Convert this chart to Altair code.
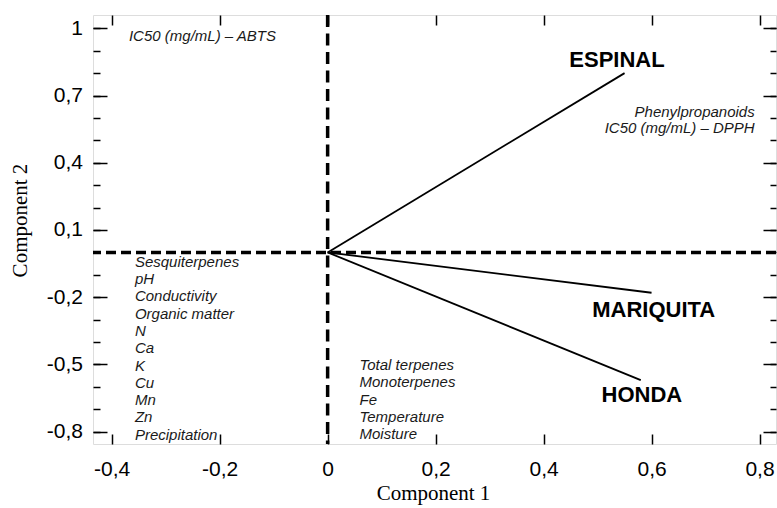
import altair as alt
import pandas as pd

# ---- data ----
sites = ["ESPINAL", "MARIQUITA", "HONDA"]
comp1 = [0.55, 0.60, 0.58]
comp2 = [0.80, -0.18, -0.57]
label_x = [0.536, 0.604, 0.582]
label_y = [0.829, -0.287, -0.669]

x_ticks = [-0.4, -0.2, 0, 0.2, 0.4, 0.6, 0.8]
y_ticks = [-0.8, -0.5, -0.2, 0.1, 0.4, 0.7, 1.0]
y_minor = [-0.8, -0.7, -0.6, -0.5, -0.4, -0.3, -0.2, -0.1, 0.0,
           0.1, 0.2, 0.3, 0.4, 0.5, 0.6, 0.7, 0.8, 0.9, 1.0]

nw_lines = ["IC50 (mg/mL) – ABTS"]
ne_lines = ["Phenylpropanoids", "IC50 (mg/mL) – DPPH"]
sw_lines = ["Sesquiterpenes", "pH", "Conductivity", "Organic matter", "N", "Ca",
            "K", "Cu", "Mn", "Zn", "Precipitation"]
se_lines = ["Total terpenes", "Monoterpenes", "Fe", "Temperature", "Moisture"]

left_blocks = [nw_lines, sw_lines, se_lines]
left_block_x = [-0.368, -0.357, 0.059]
left_block_y = [0.945, -0.064, -0.525]
right_blocks = [ne_lines]
right_block_x = [0.791]
right_block_y = [0.606]

X_DOM = [-0.4346, 0.8305]
Y_DOM = [-0.855, 1.0594]

# ---- tables ----
vec = pd.DataFrame({"site": sites, "x0": [0.0] * 3, "y0": [0.0] * 3,
                    "c1": comp1, "c2": comp2, "lx": label_x, "ly": label_y})
zero = pd.DataFrame({"z": [0.0]})
lt = pd.DataFrame({"t": ["\n".join(b) for b in left_blocks], "x": left_block_x, "y": left_block_y})
rt = pd.DataFrame({"t": ["\n".join(b) for b in right_blocks], "x": right_block_x, "y": right_block_y})

xs = alt.Scale(domain=X_DOM, nice=False, zero=False)
ys = alt.Scale(domain=Y_DOM, nice=False, zero=False)

lab_expr = "replace(replace(format(datum.value, '.1~f'), '.', ','), '\u2212', '-')"
common = dict(domain=False, grid=False, tickColor="black", tickWidth=1.5)

x_main = alt.Axis(orient="bottom", values=x_ticks, offset=-10, tickSize=10,
                  labelExpr=lab_expr, labelFont="Liberation Sans", labelFontSize=21,
                  labelColor="black", labelPadding=14, labelFlush=False, labelOverlap=False,
                  title="Component 1", titleFont="Liberation Serif", titleFontSize=21,
                  titleFontWeight="normal", titleColor="black", titleX=340, titleY=65,
                  titleBaseline="alphabetic", titleAlign="center", **common)
y_main = alt.Axis(orient="left", values=y_ticks, offset=-14, tickSize=14,
                  labelExpr=lab_expr, labelFont="Liberation Sans", labelFontSize=21,
                  labelColor="black", labelPadding=10.5, labelFlush=False, labelOverlap=False,
                  title="Component 2", titleFont="Liberation Serif", titleFontSize=21,
                  titleFontWeight="normal", titleColor="black", titleX=-87, titleY=205,
                  titleAngle=270, titleBaseline="middle", titleAlign="center", **common)
x_top = alt.Axis(orient="top", values=x_ticks, offset=-10, tickSize=10, labels=False, title=None, **common)
y_right = alt.Axis(orient="right", values=y_ticks, offset=-13, tickSize=13, labels=False, title=None, **common)
y_left_minor = alt.Axis(orient="left", values=y_minor, offset=-7, tickSize=7, labels=False, title=None, **common)
y_right_minor = alt.Axis(orient="right", values=y_minor, offset=-6, tickSize=6, labels=False, title=None, **common)

vectors = alt.Chart(vec).mark_rule(color="black", strokeWidth=1.8).encode(
    x=alt.X("x0:Q", scale=xs, axis=x_main),
    y=alt.Y("y0:Q", scale=ys, axis=y_main),
    x2="c1:Q", y2="c2:Q",
)
ax2 = alt.Chart(vec).mark_point(opacity=0).encode(
    x=alt.X("c1:Q", scale=xs, axis=x_top),
    y=alt.Y("c2:Q", scale=ys, axis=y_right),
)
ax3 = alt.Chart(vec).mark_point(opacity=0).encode(
    x=alt.X("c1:Q", scale=xs, axis=None),
    y=alt.Y("c2:Q", scale=ys, axis=y_left_minor),
)
ax4 = alt.Chart(vec).mark_point(opacity=0).encode(
    x=alt.X("c1:Q", scale=xs, axis=None),
    y=alt.Y("c2:Q", scale=ys, axis=y_right_minor),
)
hline = alt.Chart(zero).mark_rule(color="black", strokeWidth=3.5, strokeDash=[10, 5]).encode(
    y=alt.Y("z:Q", scale=ys, axis=None))
vline = alt.Chart(zero).mark_rule(color="black", strokeWidth=3.5, strokeDash=[12, 6.5]).encode(
    x=alt.X("z:Q", scale=xs, axis=None))
names = alt.Chart(vec).mark_text(align="center", baseline="alphabetic", font="Liberation Sans",
                                 fontWeight="bold", fontSize=22, color="black").encode(
    x=alt.X("lx:Q", scale=xs, axis=None), y=alt.Y("ly:Q", scale=ys, axis=None), text="site:N")
ltext = alt.Chart(lt).mark_text(align="left", baseline="alphabetic", font="Liberation Sans",
                                fontStyle="italic", fontSize=15, lineBreak="\n", lineHeight=17.3,
                                color="#1a1a1a").encode(
    x=alt.X("x:Q", scale=xs, axis=None), y=alt.Y("y:Q", scale=ys, axis=None), text="t:N")
rtext = alt.Chart(rt).mark_text(align="right", baseline="alphabetic", font="Liberation Sans",
                                fontStyle="italic", fontSize=15, lineBreak="\n", lineHeight=16.7,
                                color="#1a1a1a").encode(
    x=alt.X("x:Q", scale=xs, axis=None), y=alt.Y("y:Q", scale=ys, axis=None), text="t:N")

chart = alt.layer(vectors, ax2, ax3, ax4, hline, vline, names, ltext, rtext).resolve_axis(
    x="independent", y="independent"
).properties(
    width=683, height=429,
    padding={"left": 93, "top": 15, "right": 1, "bottom": 64},
    autosize=alt.AutoSizeParams(type="none"),
).configure_view(stroke="black", strokeWidth=2).configure(background="white")

chart.save("out.html", embed_options={"renderer": "svg", "actions": False})
